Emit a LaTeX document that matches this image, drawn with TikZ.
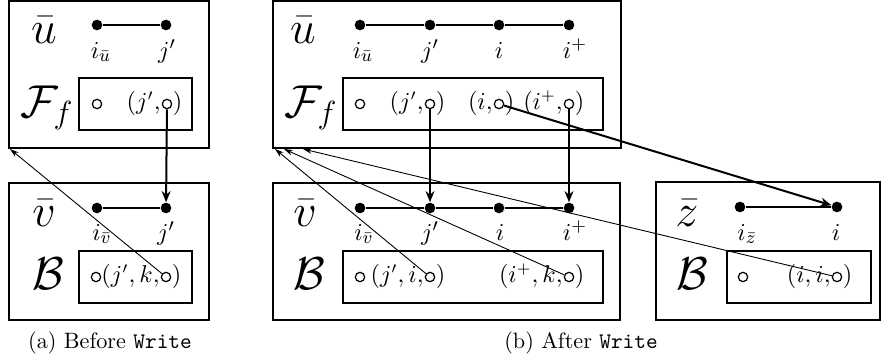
\documentclass[tikz,border=0pt]{standalone}
\usetikzlibrary{arrows.meta}
\begin{document}
\begin{tikzpicture}[x=0.45pt,y=-0.45pt,
 outer/.style={line width=1.3pt},
 inner/.style={line width=0.5pt},
 big/.style={font=\fontsize{20.74}{24}\selectfont, inner sep=0pt, anchor=base},
 lab/.style={font=\fontsize{11}{13}\selectfont, inner sep=0pt, anchor=base},
 pre/.style={font=\fontsize{10.5}{12}\selectfont, inner sep=0pt, anchor=base east, xshift=-0.3pt, yshift=-2.6pt},
 post/.style={font=\fontsize{10.5}{12}\selectfont, inner sep=0pt, anchor=base west, xshift=0.1pt, yshift=-2.6pt},
 captext/.style={font=\fontsize{10}{12}\selectfont, inner sep=0pt, anchor=base},
 dot/.style={circle, fill, inner sep=0pt, minimum size=4.8pt},
 ring/.style={circle, draw, line width=0.55pt, inner sep=0pt, minimum size=4.2pt},
 chain/.style={line width=0.9pt},
 bigarrow/.style={line width=0.9pt, -{Stealth[length=5pt,width=4pt]}},
 thinarrow/.style={line width=0.4pt, -{Stealth[length=4pt,width=2.5pt]}},
]
\useasboundingbox (0,0) rectangle (881,362);

% ---------- panel (a) ----------
\draw[outer] (9,1) rectangle (209,148);
\coordinate (A1sw) at (10,149);
\node[big] (aU) at (44,43) {$\bar u$};
\node[dot] (aU1) at (97,25) {};
\node[dot] (aU2) at (166,25) {};
\draw[chain] (aU1) -- (aU2);
\node[lab] (aUl1) at (101,58) {$i_{\bar u}$};
\node[lab] (aUl2) at (167,58) {$j'$};
\node[big] (aF) at (47,117) {$\mathcal{F}_f$};
\draw[inner] (79,78) rectangle (192,130);
\node[ring] (aFr0) at (97,104) {};
\node[ring] (aFr1) at (167,104) {};
\node[pre] (aFt1) at (aFr1.west) {$(j',$};
\node[post] (aFt1b) at (aFr1.east) {$)$};

\draw[outer] (9,183) rectangle (209,320);
\node[big] (aV) at (44,226) {$\bar v$};
\node[dot] (aV1) at (97,208) {};
\node[dot] (aV2) at (166,208) {};
\draw[chain] (aV1) -- (aV2);
\node[lab] (aVl1) at (102,240) {$i_{\bar v}$};
\node[lab] (aVl2) at (166,240) {$j'$};
\node[big] (aB) at (48,289) {$\mathcal{B}$};
\draw[inner] (79,251) rectangle (192,303);
\node[ring] (aBr0) at (96,277) {};
\node[ring] (aBr1) at (166,277) {};
\node[pre] (aBt1) at (aBr1.west) {$(j',k,$};
\node[post] (aBt1b) at (aBr1.east) {$)$};

\draw[bigarrow] (aFr1) -- (aV2);
\draw[thinarrow] (aBr1) -- (A1sw);

\node[captext] (capA) at (110,348) {(a) Before \texttt{Write}};

% ---------- panel (b) ----------
\draw[outer] (273,1) rectangle (621,148);
\coordinate (B1a) at (275,149);
\coordinate (B1b) at (284,149);
\coordinate (B1c) at (303,149);
\node[big] (bU) at (303,43) {$\bar u$};
\node[dot] (bU1) at (360,25) {};
\node[dot] (bU2) at (430,25) {};
\node[dot] (bU3) at (499,25) {};
\node[dot] (bU4) at (569,25) {};
\draw[chain] (bU1) -- (bU2) -- (bU3) -- (bU4);
\node[lab] (bUl1) at (363,58) {$i_{\bar u}$};
\node[lab] (bUl2) at (430,58) {$j'$};
\node[lab] (bUl3) at (499,58) {$i$};
\node[lab] (bUl4) at (575,58) {$i^+$};
\node[big] (bF) at (311,117) {$\mathcal{F}_f$};
\draw[inner] (343,78) rectangle (603,130);
\node[ring] (bFr0) at (360,104) {};
\node[ring] (bFr1) at (430,104) {};
\node[ring] (bFr2) at (499,104) {};
\node[ring] (bFr3) at (569,104) {};
\node[pre] (bFt1) at (bFr1.west) {$(j',$};
\node[post] (bFt1b) at (bFr1.east) {$)$};
\node[pre] (bFt2) at (bFr2.west) {$(i,$};
\node[post] (bFt2b) at (bFr2.east) {$)$};
\node[pre] (bFt3) at (bFr3.west) {$(i^+,$};
\node[post] (bFt3b) at (bFr3.east) {$)$};

\draw[outer] (273,183) rectangle (620,320);
\node[big] (bV) at (305,226) {$\bar v$};
\node[dot] (bV1) at (360,208) {};
\node[dot] (bV2) at (430,208) {};
\node[dot] (bV3) at (499,208) {};
\node[dot] (bV4) at (569,208) {};
\draw[chain] (bV1) -- (bV2) -- (bV3) -- (bV4);
\node[lab] (bVl1) at (364,240) {$i_{\bar v}$};
\node[lab] (bVl2) at (430,240) {$j'$};
\node[lab] (bVl3) at (500,240) {$i$};
\node[lab] (bVl4) at (575,240) {$i^+$};
\node[big] (bB) at (309,289) {$\mathcal{B}$};
\draw[inner] (343,251) rectangle (603,303);
\node[ring] (bBr0) at (360,277) {};
\node[ring] (bBr1) at (430,277) {};
\node[ring] (bBr3) at (569,277) {};
\node[pre] (bBt1) at (bBr1.west) {$(j',i,$};
\node[post] (bBt1b) at (bBr1.east) {$)$};
\node[pre] (bBt3) at (bBr3.west) {$(i^+,k,$};
\node[post] (bBt3b) at (bBr3.east) {$)$};

% ---------- z box ----------
\draw[outer] (656,182) rectangle (880,320);
\node[big] (zZ) at (687,226) {$\bar z$};
\node[dot] (zZ1) at (740,207) {};
\node[dot] (zZ2) at (837,207) {};
\draw[chain] (zZ1) -- (zZ2);
\node[lab] (zZl1) at (747,240) {$i_{\bar z}$};
\node[lab] (zZl2) at (836,240) {$i$};
\node[big] (zB) at (692,289) {$\mathcal{B}$};
\draw[inner] (727,251) rectangle (871,303);
\node[ring] (zBr0) at (743,277) {};
\node[ring] (zBr1) at (837,277) {};
\node[pre] (zBt1) at (zBr1.west) {$(i,i,$};
\node[post] (zBt1b) at (zBr1.east) {$)$};

% arrows
\draw[bigarrow] (bFr1) -- (bV2);
\draw[bigarrow] (bFr3) -- (bV4);
\draw[bigarrow] (bFr2) -- (zZ2);
\draw[thinarrow] (bBr1) -- (B1a);
\draw[thinarrow] (bBr3) -- (B1b);
\draw[thinarrow] (zBr1) -- (B1c);

\node[captext] (capB) at (581,348) {(b) After \texttt{Write}};
\end{tikzpicture}
\end{document}
